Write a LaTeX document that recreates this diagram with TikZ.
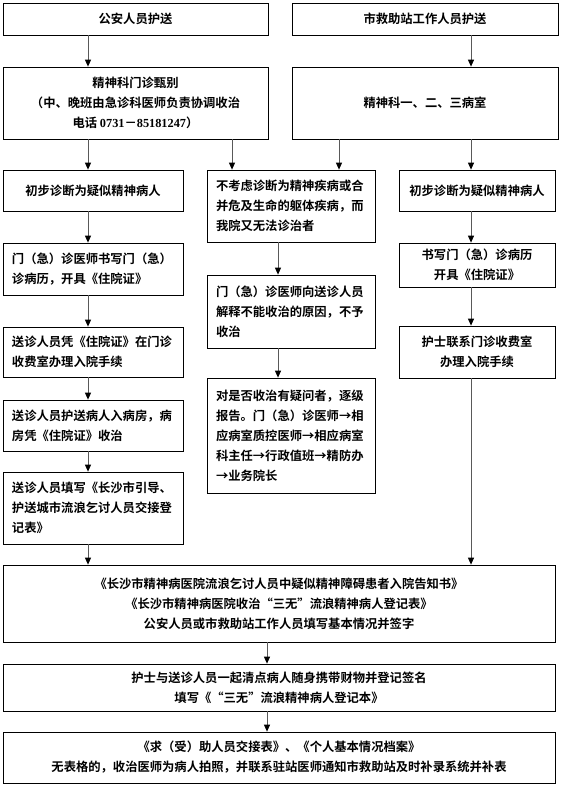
\documentclass[tikz,border=0pt]{standalone}
\usepackage{fontspec}
\setmainfont{Noto Sans CJK SC}[BoldFont={* Bold}]
\newfontfamily\numfont{Liberation Serif}
\usepackage{tikz}
\usetikzlibrary{arrows.meta}

\tikzset{
  box/.style={draw, line width=0.7pt, inner sep=0pt,
    font=\bfseries\fontsize{12.3}{20}\selectfont},
  cbox/.style={box, align=center},
  lbox/.style={box, align=left, inner xsep=9pt},
  arr/.style={draw=gray!70!black, line width=0.9pt,
    -{Triangle[length=7pt,width=6pt,color=black]}}
}

\begin{document}
\begin{tikzpicture}[x=1pt,y=-1pt]
			\useasboundingbox (0,0) rectangle (560,791);
			
			% columns of the arrows
			\coordinate (colA) at (88,0);
			\coordinate (colB) at (232,0);
			\coordinate (colC) at (339,0);
			\coordinate (colD) at (471,0);
			\coordinate (colM) at (278,0);
			\coordinate (colE) at (267,0);
			
			% top row
			\node[cbox, minimum width=265pt, minimum height=32pt] (police) at (135.5,19) {公安人员护送};
			\node[cbox, minimum width=266pt, minimum height=32pt] (rescue) at (425,19) {市救助站工作人员护送};
			
			\node[cbox, minimum width=265pt, minimum height=72pt] (clinic) at (135.5,103)
				{精神科门诊甄别\\（中、晚班由急诊科医师负责协调收治\\电话 {\numfont\bfseries 0731}－{\numfont\bfseries 85181247}）};
			\node[cbox, minimum width=266pt, minimum height=72pt] (ward) at (425,103) {精神科一、二、三病室};
			
			% left column
			\node[cbox, minimum width=180pt, minimum height=41pt] (left1) at (93,190.5) {初步诊断为疑似精神病人};
			\node[lbox, text width=162pt, minimum height=52pt] (left2) at (93,269)
				{门（急）诊医师书写门（急）\\诊病历，开具《住院证》};
			\node[lbox, text width=162pt, minimum height=50pt] (left3) at (93,352)
				{送诊人员凭《住院证》在门诊\\收费室办理入院手续};
			\node[lbox, text width=162pt, minimum height=51pt] (left4) at (93,425.5)
				{送诊人员护送病人入病房，病\\房凭《住院证》收治};
			\node[lbox, text width=162pt, minimum height=72pt] (left5) at (93,508)
				{送诊人员填写《长沙市引导、\\护送城市流浪乞讨人员交接登\\记表》};
			
			% middle column
			\node[lbox, text width=150pt, minimum height=72pt] (mid1) at (291,206)
				{不考虑诊断为精神疾病或合\\并危及生命的躯体疾病，而\\我院又无法诊治者};
			\node[lbox, text width=150pt, minimum height=73pt] (mid2) at (291,311.5)
				{门（急）诊医师向送诊人员\\解释不能收治的原因，不予\\收治};
			\node[lbox, text width=150pt, minimum height=115pt] (mid3) at (291,435.5)
				{对是否收治有疑问者，逐级\\报告。门（急）诊医师→相\\应病室质控医师→相应病室\\科主任→行政值班→精防办\\→业务院长};
			
			% right column
			\node[cbox, minimum width=156pt, minimum height=41pt] (right1) at (477,190.5) {初步诊断为疑似精神病人};
			\node[cbox, minimum width=156pt, minimum height=44pt] (right2) at (477,265)
				{书写门（急）诊病历\\开具《住院证》};
			\node[cbox, minimum width=156pt, minimum height=52pt] (right3) at (477,352)
				{护士联系门诊收费室\\办理入院手续};
			
			% bottom rows
			\node[cbox, minimum width=552pt, minimum height=77pt] (notice) at (279,603.5)
				{《长沙市精神病医院流浪乞讨人员中疑似精神障碍患者入院告知书》\\《长沙市精神病医院收治“三无”流浪精神病人登记表》\\公安人员或市救助站工作人员填写基本情况并签字};
			\node[cbox, minimum width=552pt, minimum height=47pt] (belong) at (279,687.5)
				{护士与送诊人员一起清点病人随身携带财物并登记签名\\填写《“三无”流浪精神病人登记本》};
			\node[cbox, minimum width=552pt, minimum height=51pt] (record) at (279,757.5)
				{《求（受）助人员交接表》、《个人基本情况档案》\\无表格的，收治医师为病人拍照，并联系驻站医师通知市救助站及时补录系统并补表};
			
			
			\draw[arr] (colA |- police.south) -- (colA |- clinic.north);
			\draw[arr] (colD |- rescue.south) -- (colD |- ward.north);
			
			\draw[arr] (colA |- clinic.south) -- (colA |- left1.north);
			\draw[arr] (colB |- clinic.south) -- (colB |- mid1.north);
			\draw[arr] (colC |- ward.south) -- (colC |- mid1.north);
			\draw[arr] (colD |- ward.south) -- (colD |- right1.north);
			
			\draw[arr] (colA |- left1.south) -- (colA |- left2.north);
			\draw[arr] (colA |- left2.south) -- (colA |- left3.north);
			\draw[arr] (colA |- left3.south) -- (colA |- left4.north);
			\draw[arr] (colA |- left4.south) -- (colA |- left5.north);
			\draw[arr] (colA |- left5.south) -- (colA |- notice.north);
			
			\draw[arr] (colM |- mid1.south) -- (colM |- mid2.north);
			\draw[arr] (colM |- mid2.south) -- (colM |- mid3.north);
			
			\draw[arr] (colD |- right1.south) -- (colD |- right2.north);
			\draw[arr] (colD |- right2.south) -- (colD |- right3.north);
			\draw[arr] (colD |- right3.south) -- (colD |- notice.north);
			
			\draw[arr] (colE |- notice.south) -- (colE |- belong.north);
			\draw[arr] (colE |- belong.south) -- (colE |- record.north);
			
\end{tikzpicture}
\end{document}
